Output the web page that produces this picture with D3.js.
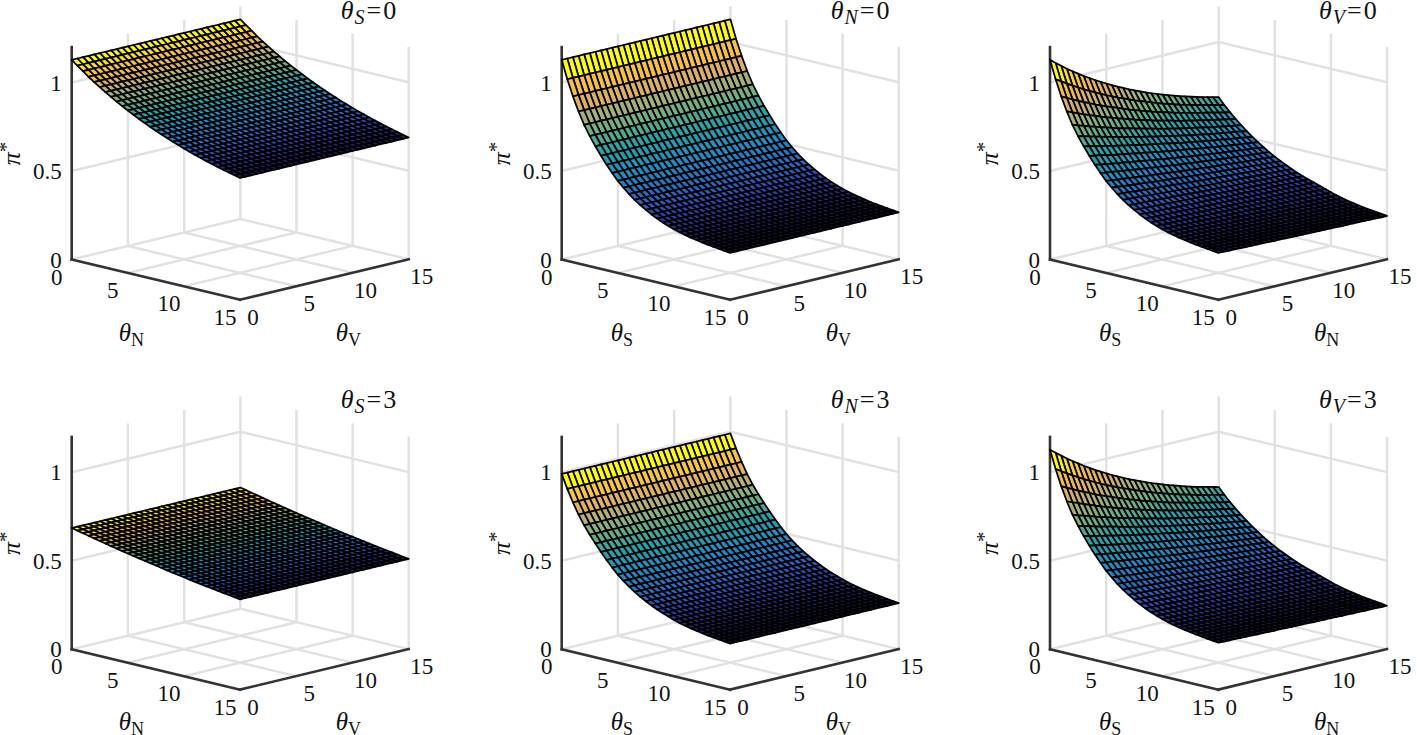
<!DOCTYPE html>
<html>
<head>
<meta charset="utf-8">
<style>
body { margin: 0; background: #fff; }
text { font-family: "Liberation Serif", serif; fill: #111; }
</style>
<script src="https://cdn.jsdelivr.net/npm/d3@7"></script>
</head>
<body>
<div id="chart"></div>
<script>
const WIDTH = 1417;
const HEIGHT = 735;

const thetaGrid = [0,0.5,1,1.5,2,2.5,3,3.5,4,4.5,5,5.5,6,6.5,7,7.5,8,8.5,9,9.5,10,10.5,11,11.5,12,12.5,13,13.5,14,14.5,15];
const thetaTicks = [0,5,10,15];
const piTicks = [0,0.5,1];
const piWallLines = [0.5,1];

const panelSymbols = ["S","N","V","S","N","V"];
const panelValues = [0,0,0,3,3,3];
const leftAxisLabels = ["N","S","S","N","S","S"];
const rightAxisLabels = ["V","V","N","V","V","N"];

// pi* in thousandths: rows theta_S = 0..15, columns theta_N = 0..15 (step 0.5)
const piTable = [
[1128,1103,1079,1055,1033,1012,991,972,953,935,918,901,885,870,855,841,828,815,802,791,779,768,758,748,738,729,720,712,704,696,688],
[1026,1006,986,967,949,931,914,898,882,867,853,839,826,813,800,788,777,765,754,744,734,724,715,706,698,689,681,674,667,659,652],
[937,920,905,889,874,860,845,832,819,807,795,782,771,760,749,739,729,720,710,701,692,684,676,668,660,653,646,639,632,625,619],
[859,846,833,820,808,796,784,773,763,752,742,732,722,713,704,695,686,678,670,662,654,647,640,633,626,619,613,607,601,595,589],
[791,780,770,760,750,740,731,721,712,703,695,687,678,670,663,655,647,640,633,626,620,613,607,601,594,588,583,577,572,566,561],
[735,726,718,709,701,693,685,677,669,662,654,647,640,633,626,620,613,607,600,594,588,582,577,571,565,560,555,550,545,540,535],
[685,678,671,664,657,650,643,636,630,623,617,611,605,599,593,587,581,575,569,564,559,553,548,543,538,533,528,524,519,514,510],
[639,633,627,620,614,608,603,597,591,585,580,575,569,564,559,554,549,544,539,534,529,525,520,516,511,507,503,499,495,491,487],
[596,591,585,580,575,570,565,560,555,550,546,541,536,532,527,523,519,514,510,506,502,498,494,491,487,483,480,476,473,469,466],
[557,552,548,543,539,535,530,526,522,518,514,510,506,502,498,495,491,487,484,480,477,474,470,467,464,461,458,455,452,449,446],
[520,516,512,509,505,502,498,494,491,488,484,481,478,475,471,468,465,462,459,456,454,451,448,445,443,440,438,435,433,430,428],
[489,486,483,479,476,473,470,467,464,462,459,456,453,450,448,445,443,440,438,435,433,430,428,426,423,421,419,417,415,413,411],
[461,458,456,453,450,448,445,443,441,438,436,433,431,429,427,424,422,420,418,416,414,412,410,408,406,405,403,401,399,398,396],
[436,434,431,429,427,425,423,421,419,417,415,413,411,409,407,405,403,401,400,398,396,395,393,391,390,388,387,385,384,382,381],
[414,412,410,408,407,405,403,401,400,398,396,394,393,391,390,388,387,385,384,382,381,379,378,377,375,374,373,372,370,369,368],
[394,392,391,389,388,386,385,383,382,381,379,378,377,375,374,373,371,370,369,368,367,365,364,363,362,361,360,359,358,357,356],
[376,375,373,372,371,370,369,367,366,365,364,363,362,361,360,359,358,357,356,355,354,353,352,351,350,349,348,347,347,346,345],
[360,359,358,357,356,355,354,353,352,351,350,349,348,348,347,346,345,344,343,343,342,341,340,340,339,338,338,337,336,336,335],
[346,345,344,343,342,342,341,340,339,338,337,337,336,335,334,334,333,332,331,331,330,329,329,328,328,327,326,326,325,325,324],
[334,333,332,332,331,330,329,328,328,327,326,326,325,324,323,323,322,321,321,320,320,319,318,318,317,317,316,316,315,314,314],
[323,322,321,321,320,319,318,317,317,316,315,315,314,313,312,312,311,310,310,309,309,308,307,307,306,306,305,305,304,303,303],
[313,312,311,311,310,309,308,307,307,306,305,305,304,303,302,302,301,300,300,299,299,298,297,297,296,296,295,295,294,293,293],
[305,304,303,303,302,301,300,299,299,298,297,297,296,295,294,294,293,292,292,291,291,290,289,289,288,288,287,287,286,285,285],
[298,297,296,296,295,294,293,292,292,291,290,290,289,288,287,287,286,285,285,284,284,283,282,282,281,281,280,280,279,278,278],
[292,291,290,290,289,288,287,286,286,285,284,284,283,282,281,281,280,279,279,278,278,277,276,276,275,275,274,274,273,272,272],
[286,285,284,284,283,282,281,280,280,279,278,278,277,276,275,275,274,273,273,272,272,271,270,270,269,269,268,268,267,266,266],
[281,280,279,279,278,277,276,275,275,274,273,273,272,271,270,270,269,268,268,267,267,266,265,265,264,264,263,263,262,261,261],
[277,276,275,275,274,273,272,271,271,270,269,269,268,267,266,266,265,264,264,263,263,262,261,261,260,260,259,259,258,257,257],
[273,272,271,271,270,269,268,267,267,266,265,265,264,263,262,262,261,260,260,259,259,258,257,257,256,256,255,255,254,253,253],
[269,268,267,267,266,265,264,263,263,262,261,261,260,259,258,258,257,256,256,255,255,254,253,253,252,252,251,251,250,249,249],
[265,264,263,263,262,261,260,259,259,258,257,257,256,255,254,254,253,252,252,251,251,250,249,249,248,248,247,247,246,245,245]
];

// colormap as seen in the reference, dark navy to yellow
const colorStops = [0,0.05,0.12,0.2,0.35,0.48,0.54,0.61,0.69,0.78,0.88,0.95,1];
const colorValues = ["#14123a","#222a72","#2c42a8","#2b66c4","#2090c4","#27a4a8","#4ba896","#74b084","#a6b078","#dcb062","#f7bf40","#fde41e","#ffff00"];

// one picker per panel: which table cell belongs to (i on left axis, j on right axis)
const surfacePickers = [
    (i,j) => piTable[0][i],
    (i,j) => piTable[i][0],
    (i,j) => piTable[i][j],
    (i,j) => piTable[6][i],
    (i,j) => piTable[i][6],
    (i,j) => piTable[i][j]
];

const panelX = [71.7,561.7,1050];
const panelY = [259.5,649.3];

function setup(){
    let svg = d3.select("#chart")
        .append("svg")
        .attr("width",WIDTH)
        .attr("height",HEIGHT)
        .style("display","block");

    let ax = d3.scaleLinear().domain([0,15]).range([0,168.3]);
    let bx = d3.scaleLinear().domain([0,15]).range([0,168.7]);
    let ay = d3.scaleLinear().domain([0,15]).range([0,40.3]);
    let by = d3.scaleLinear().domain([0,15]).range([0,-40.5]);
    let zy = d3.scaleLinear().domain([0,1.2]).range([0,-212.4]);

    function project(a,b,z){
        return [ax(a)+bx(b),ay(a)+by(b)+zy(z)];
    }
    let line = d3.line();

    panelSymbols.forEach((sym,p) => {
        let g = svg.append("g")
            .attr("transform",`translate(${panelX[p%3]},${panelY[Math.floor(p/3)]})`);
        drawGrid(g,project,line);
        drawAxes(g,project,line);
        drawSurface(g,project,line,surfacePickers[p]);
        drawLabels(g,project,p);
    });
}

function drawGrid(g,project,line){
    let segs = [];
    piWallLines.forEach(z => {
        segs.push([project(0,0,z),project(0,15,z)]);
        segs.push([project(0,15,z),project(15,15,z)]);
    });
    thetaTicks.slice(1).forEach(t => {
        segs.push([project(0,t,0),project(0,t,1.2)]);
        segs.push([project(t,15,0),project(t,15,1.2)]);
    });
    thetaTicks.slice(0,3).forEach(t => {
        segs.push([project(t,0,0),project(t,15,0)]);
    });
    thetaTicks.slice(1,4).forEach(t => {
        segs.push([project(0,t,0),project(15,t,0)]);
    });
    g.selectAll(".grid")
        .data(segs)
        .enter()
        .append("path")
        .attr("class","grid")
        .attr("d",line)
        .style("fill","none")
        .style("stroke","#e1e1e1")
        .style("stroke-width",2.5);
}

function drawAxes(g,project,line){
    let segs = [
        [project(0,0,1.2),project(0,0,0)],
        [project(0,0,0),project(15,0,0)],
        [project(15,0,0),project(15,15,0)]
    ];
    g.selectAll(".axis")
        .data(segs)
        .enter()
        .append("path")
        .attr("class","axis")
        .attr("d",line)
        .style("fill","none")
        .style("stroke","#333")
        .style("stroke-width",2.6)
        .style("stroke-linecap","square");
}

function drawSurface(g,project,line,pick){
    let values = [];
    for (let i=0;i<=30;i++){
        for (let j=0;j<=30;j++){
            values.push(pick(i,j)/1000);
        }
    }
    let colorOf = d3.scaleLinear()
        .domain(colorStops.map(s => d3.min(values)+s*(d3.max(values)-d3.min(values))))
        .range(colorValues);

    let cells = [];
    for (let i=0;i<30;i++){
        for (let j=0;j<30;j++){
            cells.push({i,j});
        }
    }
    // painter's order, back corner first
    cells.sort((m,n) => (m.i-m.j)-(n.i-n.j));

    g.selectAll(".cell")
        .data(cells)
        .enter()
        .append("path")
        .attr("class","cell")
        .attr("d",c => {
            let a0 = thetaGrid[c.i], a1 = thetaGrid[c.i+1];
            let b0 = thetaGrid[c.j], b1 = thetaGrid[c.j+1];
            return line([
                project(a0,b0,pick(c.i,c.j)/1000),
                project(a1,b0,pick(c.i+1,c.j)/1000),
                project(a1,b1,pick(c.i+1,c.j+1)/1000),
                project(a0,b1,pick(c.i,c.j+1)/1000)
            ])+"Z";
        })
        .style("fill",c => colorOf(pick(c.i,c.j)/1000))
        .style("stroke","#000")
        .style("stroke-width",1.75)
        .style("stroke-linejoin","round");
}

function drawLabels(g,project,p){
    const SIZE = 23;
    piTicks.forEach(z => {
        let pos = project(0,0,z);
        g.append("text")
            .attr("x",pos[0]-10)
            .attr("y",pos[1]+8)
            .attr("text-anchor","end")
            .style("font-size",SIZE+"px")
            .text(z);
    });
    thetaTicks.forEach(t => {
        let left = project(t,0,0);
        g.append("text")
            .attr("x",left[0]-15)
            .attr("y",left[1]+25)
            .attr("text-anchor","middle")
            .style("font-size",SIZE+"px")
            .text(t);
        let right = project(15,t,0);
        g.append("text")
            .attr("x",right[0]+13)
            .attr("y",right[1]+25)
            .attr("text-anchor","middle")
            .style("font-size",SIZE+"px")
            .text(t);
    });

    axisTitle(g,leftAxisLabels[p],leftAxisLabels[p]=="N" ? 47 : 49,81);
    axisTitle(g,rightAxisLabels[p],264,81);

    // rotated pi* label
    let pi = g.append("text")
        .attr("transform","translate(-52,-106) rotate(-90)")
        .attr("text-anchor","middle")
        .style("font-size","26px");
    pi.append("tspan").style("font-style","italic").text("π");
    pi.append("tspan").attr("dy",-7).style("font-size","21px").text("*");

    // panel title
    let title = g.append("text")
        .attr("x",269)
        .attr("y",-241)
        .style("font-size","26px");
    title.append("tspan").style("font-style","italic").text("θ");
    title.append("tspan")
        .attr("dy",5)
        .attr("dx",1)
        .style("font-size","20px")
        .style("font-style","italic")
        .text(panelSymbols[p]);
    title.append("tspan").attr("dy",-5).attr("dx",2).text("=");
    title.append("tspan").attr("dx",2).text(panelValues[p]);
}

function axisTitle(g,sub,x,y){
    let t = g.append("text")
        .attr("x",x)
        .attr("y",y)
        .style("font-size","25px");
    t.append("tspan").style("font-style","italic").text("θ");
    t.append("tspan")
        .attr("dy",5)
        .style("font-size","18px")
        .text(sub);
}

window.addEventListener("load",setup);
</script>
</body>
</html>
